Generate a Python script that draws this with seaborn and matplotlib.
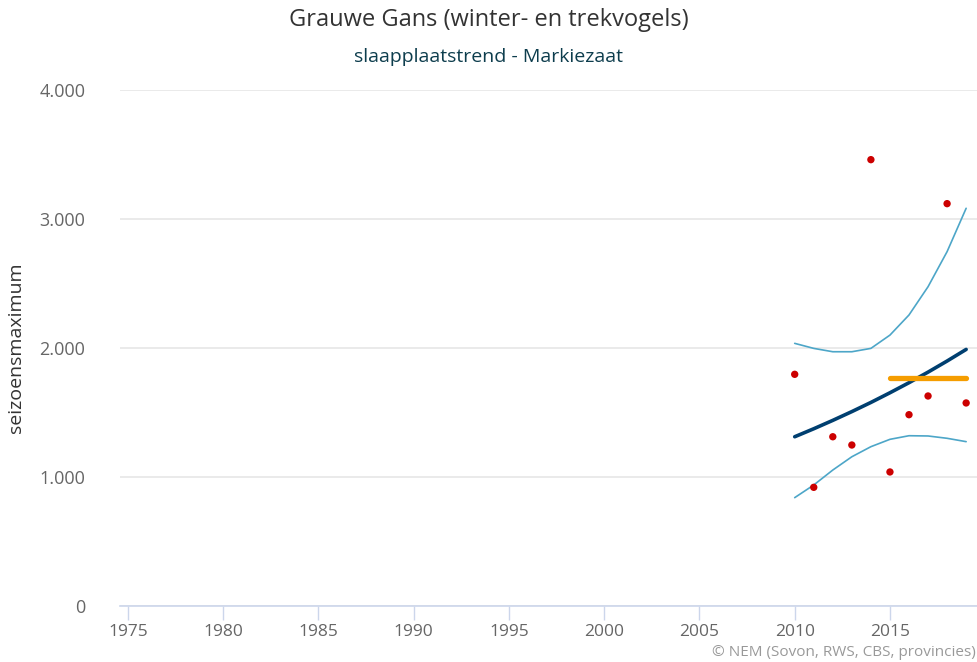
import matplotlib
matplotlib.use("Agg")
import matplotlib.pyplot as plt
import matplotlib.ticker as mticker
import seaborn as sns
import pandas as pd

years = [2010, 2011, 2012, 2013, 2014, 2015, 2016, 2017, 2018, 2019]
counts = [1796, 920, 1312, 1248, 3460, 1039, 1483, 1628, 3119, 1574]
trend = [1312, 1374, 1439, 1507, 1578, 1653, 1731, 1813, 1899, 1989]
upper = [2036, 1997, 1971, 1971, 1997, 2100, 2256, 2475, 2747, 3083]
lower = [840, 938, 1054, 1157, 1235, 1292, 1320, 1318, 1300, 1274]
ref_years = [2015, 2019]
ref_level = [1770, 1770]

x_ticks = [1975, 1980, 1985, 1990, 1995, 2000, 2005, 2010, 2015]
y_ticks = [0, 1000, 2000, 3000, 4000]

df = pd.DataFrame({"jaar": years, "aantal": counts, "trend": trend,
                   "upper": upper, "lower": lower})
ref = pd.DataFrame({"jaar": ref_years, "niveau": ref_level})

sns.set_theme(style="white")
plt.rcParams["font.family"] = ["Open Sans", "DejaVu Sans"]

fig = plt.figure(figsize=(9.77, 6.62), dpi=100)
ax = fig.add_axes([120/977, 56/662, 857/977, 516/662])

sns.lineplot(data=df, x="jaar", y="upper", ax=ax, color="#4da6c8", linewidth=1.2)
sns.lineplot(data=df, x="jaar", y="lower", ax=ax, color="#4da6c8", linewidth=1.2)
sns.lineplot(data=df, x="jaar", y="trend", ax=ax, color="#003f70", linewidth=2.6)
sns.lineplot(data=ref, x="jaar", y="niveau", ax=ax, color="#f59d00", linewidth=3.8,
             solid_capstyle="round")
sns.scatterplot(data=df, x="jaar", y="aantal", ax=ax, color="#cc0000", s=28,
                edgecolor="none", zorder=5)

ax.set_xlim(1974.58, 2019.57)
ax.set_ylim(0, 4000)
ax.set_xticks(x_ticks)
ax.set_yticks(y_ticks)
ax.yaxis.set_major_formatter(mticker.FuncFormatter(lambda v, p: f"{int(v):,}".replace(",", ".")))
ax.grid(axis="y", color="#e6e6e6", linewidth=1.2)
ax.grid(axis="x", visible=False)
ax.set_axisbelow(True)
for s in ["top", "right", "left"]:
    ax.spines[s].set_visible(False)
ax.spines["bottom"].set_color("#ccd6eb")
ax.spines["bottom"].set_linewidth(1.2)
ax.tick_params(axis="x", bottom=True, length=10, width=1, color="#ccd6eb",
               labelsize=12.5, labelcolor="#666666", pad=3)
ax.tick_params(axis="y", left=False, labelsize=13, labelcolor="#666666", pad=19)
ax.set_xlabel("")
ax.set_ylabel("seizoensmaximum", fontsize=14, color="#333333", labelpad=10)

fig.text(0.5, 1 - 20/662, "Grauwe Gans (winter- en trekvogels)", ha="center", va="center",
         fontsize=17, color="#333333")
fig.text(0.5, 1 - 57/662, "slaapplaatstrend - Markiezaat", ha="center", va="center",
         fontsize=14, color="#0d3d4d")
fig.text(976/977, 1 - 652/662, "\u00a9 NEM (Sovon, RWS, CBS, provincies)", ha="right",
         va="center", fontsize=11, color="#999999")

fig.savefig("out.png", dpi=100)
